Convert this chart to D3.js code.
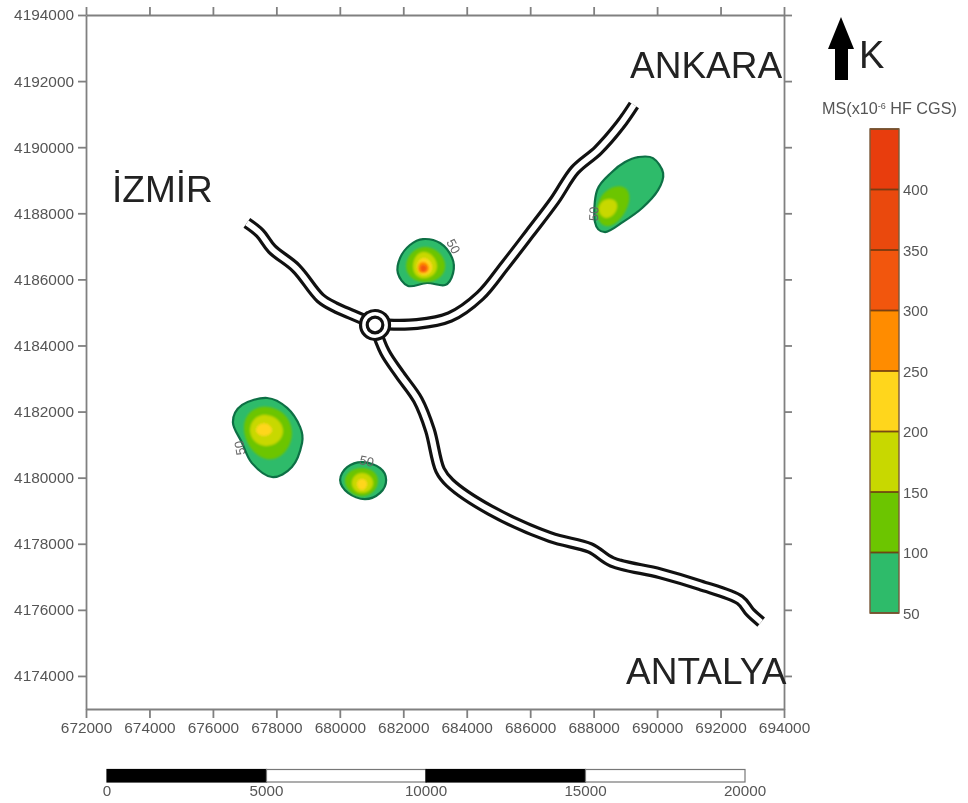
<!DOCTYPE html>
<html><head><meta charset="utf-8">
<script src="https://cdn.jsdelivr.net/npm/d3@7"></script>
<style>
html,body{margin:0;padding:0;background:#fff}
svg{display:block}
text{font-family:"Liberation Sans",Arial,sans-serif}
</style></head><body>
<svg id="c" width="968" height="803"></svg>
<script>
// ---- axes (map coordinates, metres) ----
const xTicks = d3.range(672000, 694001, 2000);
const yTicks = d3.range(4174000, 4194001, 2000);
const xDomain = [672000, 694000];
const yDomain = [4173000, 4194000];

// ---- legend ----
const legendBreaks = [50,100,150,200,250,300,350,400,450];
const legendLabels = [50,100,150,200,250,300,350,400];
const legendColors = ["#2dbb6a","#6cc500","#c8d800","#ffd61e","#ff8c00","#f2560f","#ea4a0f","#e83c10"];
const scaleBarTicks = [0,5000,10000,15000,20000];

// ---- roads (km) ----
const roadIzmir = [[677.07,4187.71],[677.48,4187.40],[677.86,4186.92],[678.62,4186.34],[679.38,4185.44],[679.85,4185.16],[680.42,4184.92],[681.08,4184.65]];
const roadAnkara = [[681.08,4184.65],[682.43,4184.65],[683.47,4184.86],[684.42,4185.50],[685.21,4186.43],[685.99,4187.40],[686.78,4188.40],[687.41,4189.31],[688.14,4189.91],[688.83,4190.67],[689.27,4191.28]];
const roadAntalya = [[681.08,4184.65],[681.42,4183.80],[681.90,4183.11],[682.46,4182.35],[682.84,4181.44],[683.16,4180.23],[683.47,4179.84],[684.73,4179.02],[686.63,4178.20],[687.89,4177.87],[688.58,4177.45],[690.09,4177.11],[691.35,4176.75],[692.61,4176.30],[692.93,4175.93],[693.28,4175.63]];
const junction = [681.11,4184.62];

// ---- anomaly contours (km): band index into legendColors ----
const anomalyA = [
 [0,[[682.62,4187.22],[683.16,4187.10],[683.54,4186.65],[683.57,4186.19],[683.32,4185.83],[682.75,4185.89],[682.15,4185.80],[681.83,4186.19],[681.90,4186.65],[682.21,4187.04]]],
 [1,[[682.69,4186.98],[683.32,4186.40],[682.69,4185.92],[682.09,4186.40]]],
 [2,[[682.65,4186.83],[683.06,4186.40],[682.65,4186.04],[682.31,4186.40]]],
 [3,[[682.65,4186.65],[682.91,4186.37],[682.65,4186.13],[682.43,4186.37]]],
 [4,[[682.62,4186.53],[682.81,4186.34],[682.62,4186.19],[682.46,4186.34]]],
 [5,[[682.62,4186.44],[682.75,4186.34],[682.62,4186.22],[682.53,4186.34]]]
];
const anomalyB = [
 [0,[[689.40,4189.70],[689.87,4189.67],[690.19,4189.22],[690.03,4188.70],[689.53,4188.16],[688.93,4187.74],[688.36,4187.43],[688.04,4187.74],[688.11,4188.70],[688.58,4189.25],[688.99,4189.55]]],
 [1,[[688.67,4188.80],[689.12,4188.40],[688.52,4187.62],[688.11,4188.16]]],
 [2,[[688.48,4188.43],[688.74,4188.19],[688.42,4187.86],[688.17,4188.16]]]
];
const anomalyC = [
 [0,[[677.71,4182.41],[678.34,4182.11],[678.75,4181.53],[678.81,4181.05],[678.49,4180.32],[677.86,4180.02],[677.23,4180.44],[676.92,4181.05],[676.63,4181.68],[676.92,4182.20]]],
 [1,[[677.74,4182.14],[678.49,4181.35],[677.74,4180.56],[676.98,4181.50]]],
 [2,[[677.67,4181.90],[678.21,4181.41],[677.67,4180.96],[677.17,4181.44]]],
 [3,[[677.61,4181.65],[677.86,4181.44],[677.61,4181.26],[677.36,4181.44]]]
];
const anomalyD = [
 [0,[[680.73,4180.47],[681.27,4180.29],[681.46,4179.93],[681.27,4179.54],[680.79,4179.35],[680.26,4179.54],[680.01,4179.93],[680.23,4180.32]]],
 [1,[[680.70,4180.29],[681.20,4179.90],[680.70,4179.44],[680.16,4179.90]]],
 [2,[[680.70,4180.14],[681.05,4179.84],[680.70,4179.54],[680.38,4179.84]]],
 [3,[[680.70,4179.96],[680.86,4179.81],[680.70,4179.63],[680.54,4179.81]]]
];
const anomalies = [anomalyA, anomalyB, anomalyC, anomalyD];
// contour value labels: easting, northing (km), rotation
const contourLabels = [[683.58,4187.0,62],[688.0,4187.98,-88],[676.85,4180.90,-100],[680.85,4180.5,12]];

// ---- layout ----
const svg = d3.select("#c");
const defs = svg.append("defs");
defs.append("filter").attr("id","soft").attr("x","-5%").attr("y","-5%").attr("width","110%").attr("height","110%")
  .append("feGaussianBlur").attr("stdDeviation",0.5);
defs.append("filter").attr("id","soft2").attr("x","-20%").attr("y","-20%").attr("width","140%").attr("height","140%")
  .append("feGaussianBlur").attr("stdDeviation",0.6);
defs.append("filter").attr("id","soft3").attr("x","-20%").attr("y","-20%").attr("width","140%").attr("height","140%")
  .append("feGaussianBlur").attr("stdDeviation",1.1);

const x = d3.scaleLinear().domain(xDomain).range([86,784]);
const y = d3.scaleLinear().domain(yDomain).range([709,15]);
const km = p => [x(p[0]*1000), y(p[1]*1000)];
const gray = "#555";
const tickFont = "15.4px";

// axes
const axes = svg.append("g").attr("filter","url(#soft)");
function styled(g){
  g.selectAll("path.domain,line").attr("stroke","#808080").attr("stroke-width",1.8);
  g.selectAll("text").attr("fill",gray).style("font-size",tickFont).style("font-family",'"Liberation Sans",Arial,sans-serif');
}
const fmt = d3.format("d");
axes.append("g").attr("transform","translate(0,709)").call(d3.axisBottom(x).tickValues(xTicks).tickFormat(fmt).tickSize(9).tickPadding(4).tickSizeOuter(0)).call(styled);
axes.append("g").attr("transform","translate(0,15)").call(d3.axisTop(x).tickValues(xTicks).tickFormat("").tickSize(8).tickSizeOuter(0)).call(styled);
axes.append("g").attr("transform","translate(86,0)").call(d3.axisLeft(y).tickValues(yTicks).tickFormat(fmt).tickSize(8).tickPadding(4).tickSizeOuter(0)).call(styled);
axes.append("g").attr("transform","translate(784,0)").call(d3.axisRight(y).tickValues(yTicks).tickFormat("").tickSize(8).tickSizeOuter(0)).call(styled);

// anomalies
const blobOuter = d3.line().curve(d3.curveCatmullRomClosed.alpha(0));
const blobInner = d3.line().curve(d3.curveCardinalClosed.tension(-0.65));
const gOuter = svg.append("g").attr("filter","url(#soft2)");
const gInner = svg.append("g").attr("filter","url(#soft3)");
anomalies.forEach(an=>{
  an.forEach(([band,ring],i)=>{
    const gen = ring.length===4 ? blobInner : blobOuter;
    (i===0?gOuter:gInner).append("path").attr("d",gen(ring.map(km)))
      .attr("fill",legendColors[band])
      .attr("stroke",i===0?"#0f7045":"none").attr("stroke-width",i===0?2.2:0);
  });
});
svg.append("g").attr("filter","url(#soft)").selectAll("text").data(contourLabels).join("text")
  .attr("transform",d=>{const p=km(d);return `translate(${p[0]},${p[1]}) rotate(${d[2]})`})
  .attr("text-anchor","middle").attr("dominant-baseline","central")
  .attr("font-size",13).attr("fill","#666").text("50");

// roads
const road = d3.line().curve(d3.curveCatmullRom.alpha(0.5));
const gR = svg.append("g").attr("fill","none");
[roadIzmir,roadAnkara,roadAntalya].forEach(r=>gR.append("path").attr("d",road(r.map(km))).attr("stroke","#111").attr("stroke-width",12));
[roadIzmir,roadAnkara,roadAntalya].forEach(r=>gR.append("path").attr("d",road(r.map(km))).attr("stroke","#fff").attr("stroke-width",5.6));
const jp = km(junction);
gR.append("circle").attr("cx",jp[0]).attr("cy",jp[1]).attr("r",14.5).attr("fill","#fff").attr("stroke","#111").attr("stroke-width",3.2);
gR.append("circle").attr("cx",jp[0]).attr("cy",jp[1]).attr("r",7.8).attr("fill","#fff").attr("stroke","#111").attr("stroke-width",3.2);

// city labels
const cities = [["ANKARA",630,78],["ANTALYA",626,684],["İZMİR",112,202]];
svg.append("g").selectAll("text").data(cities).join("text")
  .attr("x",d=>d[1]).attr("y",d=>d[2]).attr("font-size",37).attr("fill","#222").text(d=>d[0]);

// north arrow
svg.append("path").attr("d","M841 17L854 49L848 49L848 80L835 80L835 49L828 49Z").attr("fill","#000");
svg.append("text").attr("x",859).attr("y",68).attr("font-size",38).attr("fill","#222").text("K");

// colour legend
const ly = d3.scaleLinear().domain([50,450]).range([613,129]);
const gL = svg.append("g").attr("filter","url(#soft)");
const t = gL.append("text").attr("x",822).attr("y",114).attr("font-size",16.2).attr("fill",gray);
t.append("tspan").text("MS(x10");
t.append("tspan").attr("font-size",9).attr("dy",-5).text("-6");
t.append("tspan").attr("dy",5).text(" HF CGS)");
gL.selectAll("rect").data(legendColors).join("rect")
  .attr("x",870).attr("width",29)
  .attr("y",(d,i)=>ly(legendBreaks[i+1])).attr("height",(d,i)=>ly(legendBreaks[i])-ly(legendBreaks[i+1]))
  .attr("fill",d=>d);
gL.append("g").selectAll("line").data(legendBreaks).join("line")
  .attr("x1",870).attr("x2",899).attr("y1",d=>ly(d)).attr("y2",d=>ly(d))
  .attr("stroke","#6b3a10").attr("stroke-opacity",0.9).attr("stroke-width",1.8);
gL.append("rect").attr("x",870).attr("width",29).attr("y",ly(450)).attr("height",ly(50)-ly(450)).attr("fill","none").attr("stroke","#7a5a3a").attr("stroke-width",1.4);
gL.append("g").selectAll("text").data(legendLabels).join("text")
  .attr("x",903).attr("y",d=>ly(d)).attr("dominant-baseline","central").attr("font-size",15).attr("fill",gray).text(d=>d);

// scale bar
const sb = d3.scaleLinear().domain([0,20000]).range([107,745]);
const gS = svg.append("g").attr("filter","url(#soft)");
gS.selectAll("rect").data(d3.pairs(scaleBarTicks)).join("rect")
  .attr("x",d=>sb(d[0])).attr("width",d=>sb(d[1])-sb(d[0])).attr("y",769.5).attr("height",12.5)
  .attr("fill",(d,i)=>i%2?"#fff":"#000").attr("stroke",(d,i)=>i%2?"#777":"#000").attr("stroke-width",1.2);
gS.append("g").selectAll("text").data(scaleBarTicks).join("text")
  .attr("x",d=>sb(d)).attr("y",796).attr("text-anchor","middle").attr("font-size",15.2).attr("fill",gray).text(d=>d);
</script>
</body></html>
